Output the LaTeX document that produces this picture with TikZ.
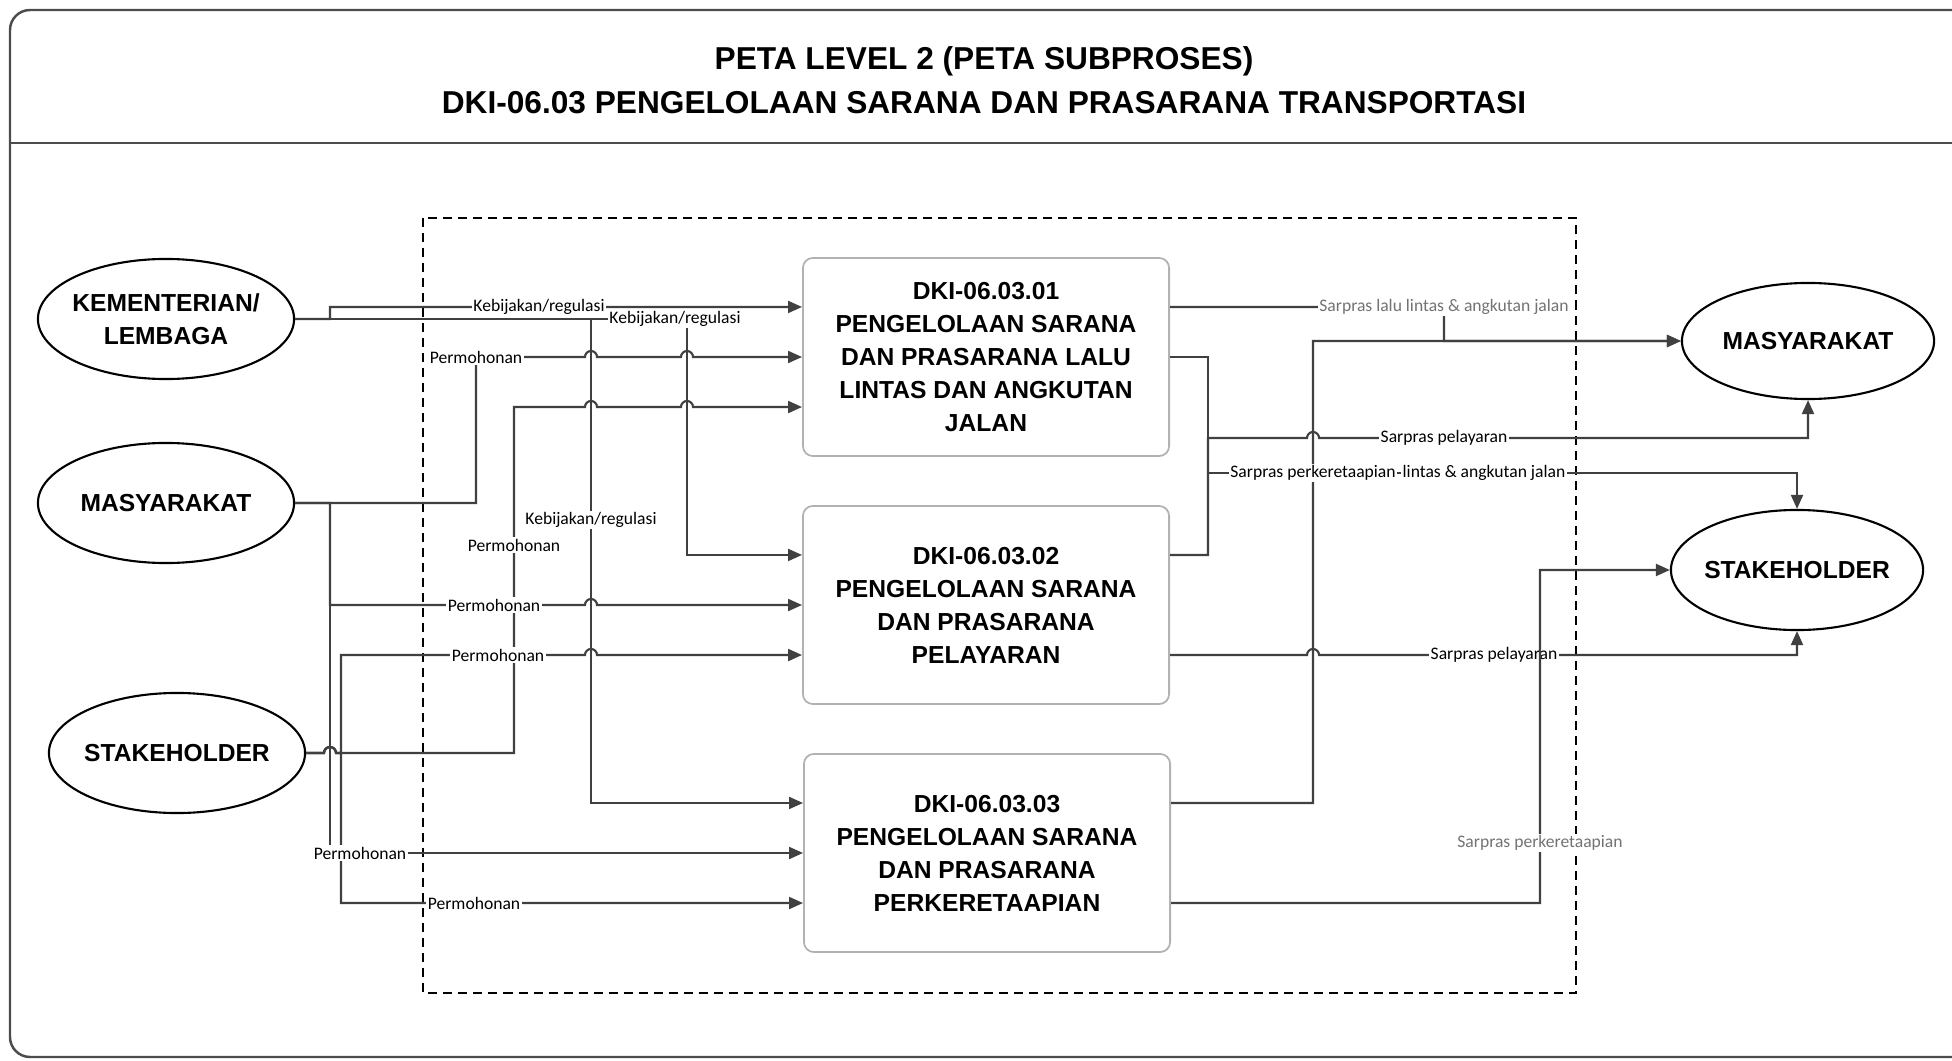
\documentclass[tikz,border=0pt]{standalone}
\usepackage{fontspec}
\setmainfont{Liberation Sans}
\newfontfamily\lblfont{Carlito}
\usetikzlibrary{arrows.meta,shapes.geometric}
\newcommand{\jmp}[2]{-- (#1-6,#2) arc[start angle=180,end angle=0,radius=0.6mm]}

\begin{document}
\begin{tikzpicture}[x=0.01cm,y=-0.01cm,font=\fontsize{7}{9.4}\selectfont\bfseries,>={Triangle[length=1.4mm,width=1.2mm]},
actor/.style={ellipse,draw,line width=0.6pt,minimum width=2.56cm,minimum height=1.2cm,inner xsep=-0.5mm,align=center},
proc/.style={draw=black!30,line width=0.5pt,rounded corners=1mm,minimum width=3.66cm,minimum height=1.98cm,align=center},
flow/.style={draw=black!75,line width=0.6pt,->},
lbl/.style={fill=white,inner sep=0.4pt,font=\lblfont\mdseries\fontsize{5}{6}\selectfont},lblg/.style={lbl,text=black!55}]
\useasboundingbox (0,0) rectangle (1952,1061);
\draw[black!70,line width=0.7pt,rounded corners=2mm] (10,10) rectangle (1980,1057);\draw[black!70,line width=0.7pt] (10,143)--(1952,143);
\node[align=center,font=\fontsize{9}{12.5}\selectfont\bfseries] (title) at (984,80){PETA LEVEL 2 (PETA SUBPROSES)\\DKI-06.03 PENGELOLAAN SARANA DAN PRASARANA TRANSPORTASI};
\draw[line width=0.5pt,dash pattern=on 0.9mm off 0.6mm] (423,218) rectangle (1576,993);
\node[actor] (kem) at (166,319){KEMENTERIAN/\\LEMBAGA};\node[actor] (masL) at (166,503){MASYARAKAT};\node[actor] (stkL) at (177,753){STAKEHOLDER};
\node[actor,minimum width=2.52cm,minimum height=1.16cm] (masR) at (1808,341){MASYARAKAT};\node[actor,minimum width=2.52cm] (stkR) at (1797,570){STAKEHOLDER};
\node[proc] (p1) at (986,357){DKI-06.03.01\\PENGELOLAAN SARANA\\DAN PRASARANA LALU\\LINTAS DAN ANGKUTAN\\JALAN};
\node[proc] (p2) at (986,605){DKI-06.03.02\\PENGELOLAAN SARANA\\DAN PRASARANA\\PELAYARAN};
\node[proc] (p3) at (987,853){DKI-06.03.03\\PENGELOLAAN SARANA\\DAN PRASARANA\\PERKERETAAPIAN};
\draw[flow] (kem.east)--(330,319)--(330,307)--(539,307) node[lbl]{Kebijakan/regulasi}--([yshift=5mm]p1.west);
\draw[flow] (kem.east)--(675,319) node[lbl]{Kebijakan/regulasi}--(687,319) |- ([yshift=5mm]p2.west);
\draw[flow] (kem.east)--(591,319)--(591,520) node[lbl]{Kebijakan/regulasi} |- ([yshift=5mm]p3.west);
\draw[flow] (masL.east)--(476,503)--(476,357) node[lbl]{Permohonan} \jmp{591}{357} \jmp{687}{357} --(p1.west);
\draw[flow] (stkL.east) \jmp{330}{753} --(514,753)--(514,545) node[lbl]{Permohonan}--(514,407) \jmp{591}{407} \jmp{687}{407} --([yshift=-5mm]p1.west);
\draw[flow] (masL.east)--(330,503)--(330,605)--(494,605) node[lbl]{Permohonan} \jmp{591}{605} --(p2.west);
\draw[flow] (stkL.east) \jmp{330}{753} --(341,753)--(341,655)--(498,655) node[lbl]{Permohonan} \jmp{591}{655} --([yshift=-5mm]p2.west);
\draw[flow] (stkL.east) \jmp{330}{753} --(341,753)--(341,903)--(474,903) node[lbl]{Permohonan}--([yshift=-5mm]p3.west);
\draw[flow] (masL.east)--(330,503)--(330,853)--(360,853) node[lbl]{Permohonan}--(p3.west);
\draw[flow] ([yshift=5mm]p1.east)--(1444,307) node[lblg]{Sarpras lalu lintas \& angkutan jalan} |- (masR.west);
\draw[flow] (p1.east)--(1208,357) |- (1484,473) node[lbl]{lintas \& angkutan jalan} -| (stkR.north);
\draw[flow] ([yshift=5mm]p3.east)--(1313,803)--(1313,473) node[lbl]{Sarpras perkeretaapian} |- (masR.west);
\draw[flow] ([yshift=5mm]p2.east)--(1208,555)--(1208,438) \jmp{1313}{438} --(1444,438) node[lbl]{Sarpras pelayaran} -| (masR.south);
\draw[flow] ([yshift=-5mm]p2.east) \jmp{1313}{655} --(1494,655) node[lbl]{Sarpras pelayaran} -| (stkR.south);
\draw[flow] ([yshift=-5mm]p3.east)--(1540,903)--(1540,843) node[lblg]{Sarpras perkeretaapian} |- (stkR.west);
\end{tikzpicture}
\end{document}
